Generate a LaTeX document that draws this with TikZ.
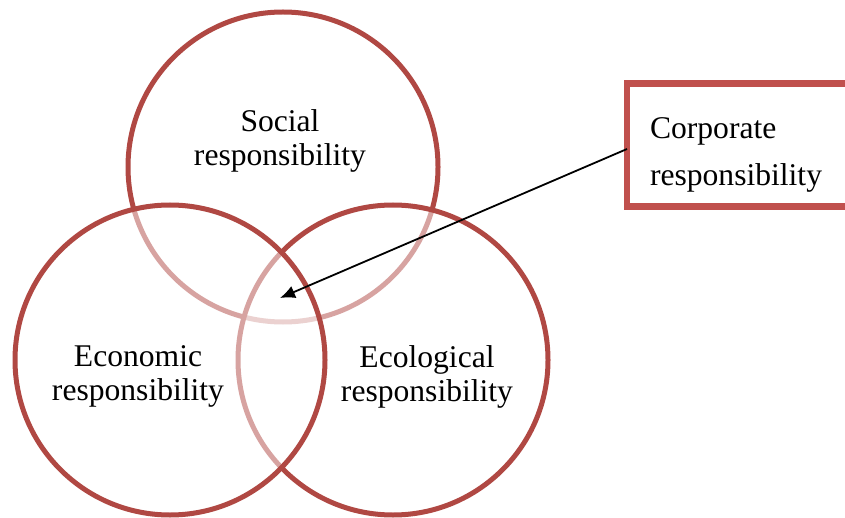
\documentclass[tikz,border=0pt]{standalone}
\usepackage{fontspec}
\setmainfont{Liberation Serif}
\usetikzlibrary{arrows.meta}
\definecolor{ring}{HTML}{B04843}
\definecolor{boxline}{HTML}{C0504D}
\newcommand{\Ring}{\fontsize{31.6}{34}\selectfont}
\newcommand{\Note}{\fontsize{31.6}{47}\selectfont}

\begin{document}
\begin{tikzpicture}[x=1pt,y=-1pt, font=\Ring,
    area/.style={circle, draw=ring, line width=5pt, fill=white, fill opacity=0.5,
      minimum size=310pt, inner sep=0pt, outer sep=0pt},
    tag/.style={align=center, text=black},
    corpbox/.style={draw=boxline, line width=6.5pt, font=\Note, align=left,
      text width=214pt, inner xsep=23pt, text height=40pt,
      minimum height=123pt, outer sep=0pt}]
  \clip (0,0) rectangle (845,518);
  % three rings, back to front
  \node[area] (social) at (283,167) {};
  \node[area] (ecological) at (393,360) {};
  \node[area] (economic) at (170,360) {};
  \node[tag] (soclbl) at (280,140.5) {Social\\responsibility};
  \node[tag] (ecolbl) at (138,376.5) {Economic\\responsibility};
  \node[tag] (ecglbl) at (427,376.5) {Ecological\\responsibility};
  % callout box, runs off the right edge
  \node[corpbox, anchor=north west] (corp) at (627,83.5) {Corporate\\responsibility};
  \coordinate (core) at (280,298);
  \draw[-{Latex[length=15pt,width=13pt]}, line width=1.8pt] ([yshift=-4pt]corp.west) -- (core);
\end{tikzpicture}
\end{document}
